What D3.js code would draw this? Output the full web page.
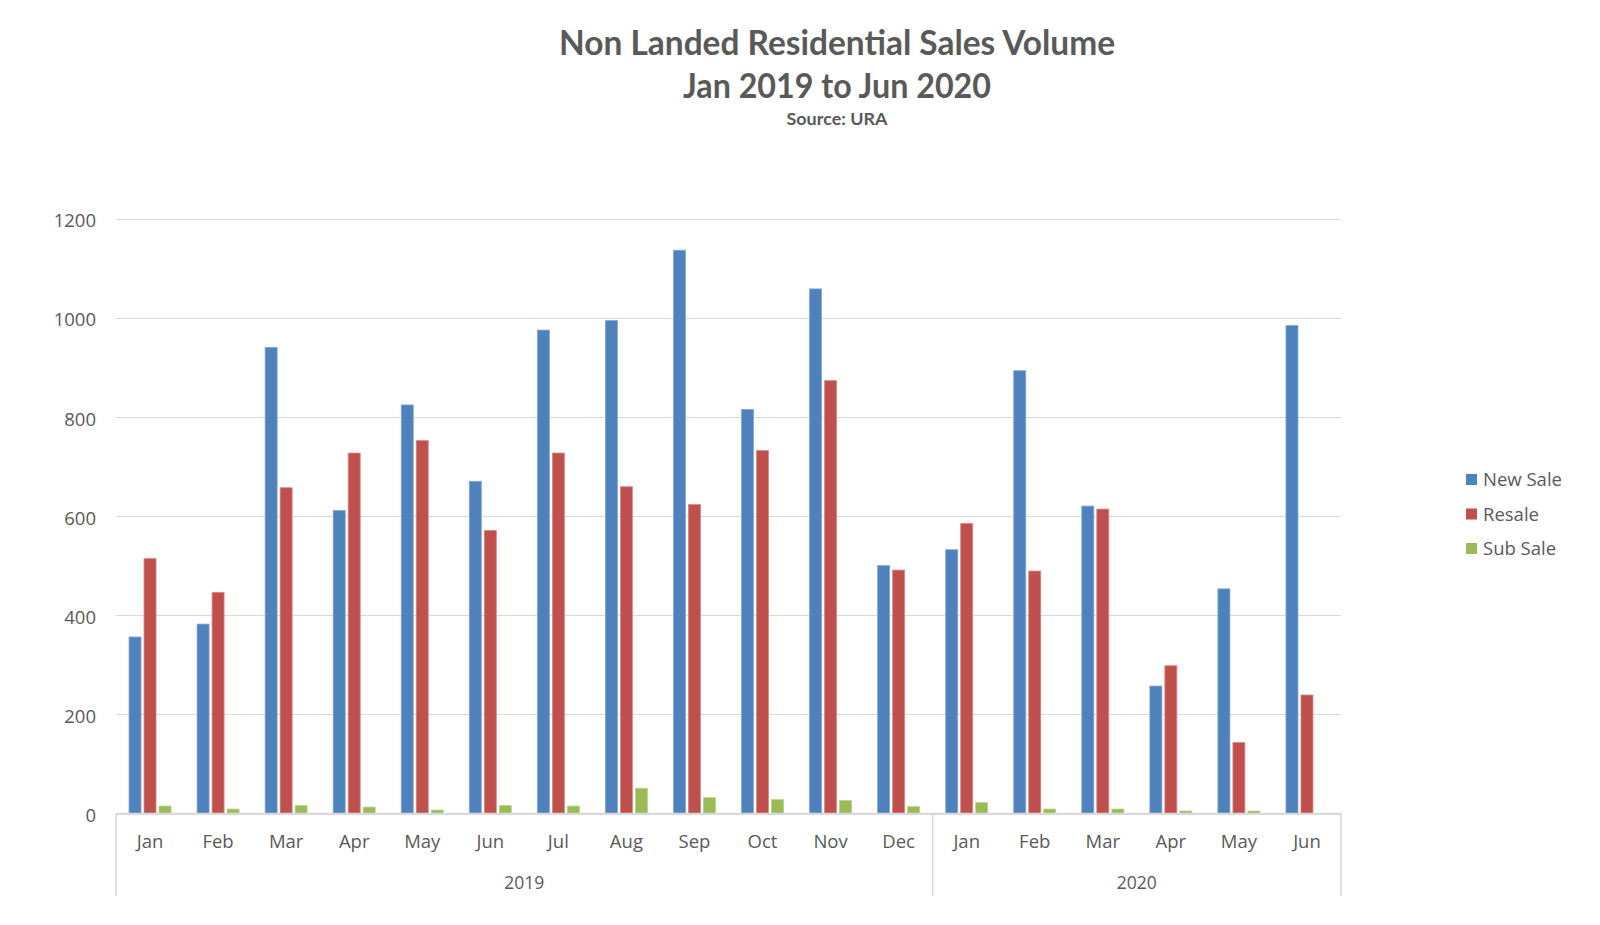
<!DOCTYPE html>
<html>
<head>
<meta charset="utf-8">
<script src="https://cdn.jsdelivr.net/npm/d3@7"></script>
<style>
  html, body { margin: 0; padding: 0; background: #ffffff; }
  svg { display: block; }
</style>
</head>
<body>
<svg id="chart" width="1600" height="925"></svg>
<script>
const months = ["Jan","Feb","Mar","Apr","May","Jun","Jul","Aug","Sep","Oct","Nov","Dec","Jan","Feb","Mar","Apr","May","Jun"];
const years = ["2019","2020"];
const yearOfMonth = [0,0,0,0,0,0,0,0,0,0,0,0,1,1,1,1,1,1];
const seriesNames = ["New Sale","Resale","Sub Sale"];
const newSale = [356,382,940,611,824,670,975,994,1136,815,1058,500,532,893,620,257,453,984];
const resale  = [514,446,657,727,752,571,727,659,623,732,873,491,585,489,614,298,143,239];
const subSale = [15,9,16,13,7,16,15,51,32,28,26,14,22,9,9,5,5,0];
const yTicks = [0,200,400,600,800,1000,1200];
const titleLines = ["Non Landed Residential Sales Volume","Jan 2019 to Jun 2020"];
const subtitle = "Source: URA";

const colors = ["#4f81bd","#c0504d","#9bbb59"];
const strokes = ["#7fa6d6","#dc8684","#b9d38a"];
const seriesData = [newSale, resale, subSale];
const textColor = "#595959";
const gridColor = "#d9d9d9";
const font = "'Open Sans', sans-serif";

const svg = d3.select("#chart");
const plotLeft = 116, plotRight = 1341, plotTop = 218.5, plotBottom = 813.5;

const x0 = d3.scaleBand().domain(d3.range(months.length)).range([plotLeft, plotRight])
  .paddingInner(0.383).paddingOuter(0.1915);
const x1 = d3.scaleBand().domain(d3.range(seriesNames.length)).range([0, x0.bandwidth()])
  .paddingInner(0.2).paddingOuter(0);
const y = d3.scaleLinear().domain([0, 1200]).range([plotBottom, plotTop]);

// gridlines
svg.append("g").selectAll("line").data(yTicks).join("line")
  .attr("x1", plotLeft).attr("x2", plotRight)
  .attr("y1", d => Math.round(y(d)) + 0.5).attr("y2", d => Math.round(y(d)) + 0.5)
  .attr("stroke", gridColor).attr("stroke-width", 1.2);

// y axis labels
const yAxis = d3.axisLeft(y).tickValues(yTicks).tickSize(0).tickPadding(0).tickFormat(d3.format("d"));
const yg = svg.append("g").attr("transform", `translate(${96},0)`).call(yAxis);
yg.select(".domain").remove();
yg.selectAll("text").attr("fill", textColor).attr("font-family", font).attr("font-size", "18.5px")
  .attr("dy", "0.45em");

// bars
const groups = svg.append("g").selectAll("g").data(months.map((m, i) => i)).join("g")
  .attr("transform", i => `translate(${x0(i)},0)`);
groups.selectAll("rect").data(i => seriesData.map((s, k) => ({k, v: s[i]}))).join("rect")
  .attr("x", d => x1(d.k))
  .attr("width", x1.bandwidth())
  .attr("y", d => y(d.v))
  .attr("height", d => Math.max(0, plotBottom - y(d.v)))
  .attr("fill", d => colors[d.k])
  .attr("stroke", d => d.v > 0 ? strokes[d.k] : "none")
  .attr("stroke-width", 0.8);

// category axis: bottom line and group separators
svg.append("line").attr("x1", plotLeft).attr("x2", plotRight).attr("y1", plotBottom).attr("y2", plotBottom)
  .attr("stroke", gridColor).attr("stroke-width", 1.5);
const sepIdx = [0];
for (let i = 1; i < months.length; i++) if (yearOfMonth[i] !== yearOfMonth[i-1]) sepIdx.push(i);
const sepX = sepIdx.map(i => x0(i) - x0.step() * x0.paddingInner() / 2).concat([plotRight]);
sepX[0] = plotLeft;
svg.append("g").selectAll("line").data(sepX).join("line")
  .attr("x1", d => d).attr("x2", d => d).attr("y1", plotBottom).attr("y2", 896)
  .attr("stroke", gridColor).attr("stroke-width", 1.5);

// month labels
svg.append("g").selectAll("text").data(months).join("text")
  .attr("x", (d, i) => x0(i) + x0.bandwidth() / 2)
  .attr("y", 848)
  .attr("text-anchor", "middle")
  .attr("fill", textColor).attr("font-family", font).attr("font-size", "18.5px")
  .text(d => d);

// year labels
svg.append("g").selectAll("text").data(years).join("text")
  .attr("x", (d, j) => (sepX[j] + sepX[j + 1]) / 2)
  .attr("y", 889)
  .attr("text-anchor", "middle")
  .attr("fill", textColor).attr("font-family", font).attr("font-size", "17.5px")
  .text(d => d);

// title
const titleFont = "Lato, 'Open Sans', sans-serif";
svg.append("text").attr("x", 837).attr("y", 55).attr("text-anchor", "middle")
  .attr("fill", textColor).attr("font-family", titleFont).attr("font-weight", "bold")
  .attr("font-size", "34px").attr("textLength", 556).attr("lengthAdjust", "spacingAndGlyphs")
  .text(titleLines[0]);
svg.append("text").attr("x", 837).attr("y", 98).attr("text-anchor", "middle")
  .attr("fill", textColor).attr("font-family", titleFont).attr("font-weight", "bold")
  .attr("font-size", "34px").attr("textLength", 308).attr("lengthAdjust", "spacingAndGlyphs")
  .text(titleLines[1]);
svg.append("text").attr("x", 837).attr("y", 125).attr("text-anchor", "middle")
  .attr("fill", textColor).attr("font-family", titleFont).attr("font-weight", "bold")
  .attr("font-size", "17px").attr("textLength", 101).attr("lengthAdjust", "spacingAndGlyphs")
  .text(subtitle);

// legend
const legend = svg.append("g").selectAll("g").data(seriesNames).join("g")
  .attr("transform", (d, i) => `translate(1466,${480 + i * 34.5})`);
legend.append("rect").attr("x", 0).attr("y", -6).attr("width", 11).attr("height", 11)
  .attr("fill", (d, i) => colors[i]);
legend.append("text").attr("x", 17).attr("y", 0).attr("dy", "0.35em")
  .attr("fill", textColor).attr("font-family", font).attr("font-size", "18.5px")
  .text(d => d);
</script>
</body>
</html>
